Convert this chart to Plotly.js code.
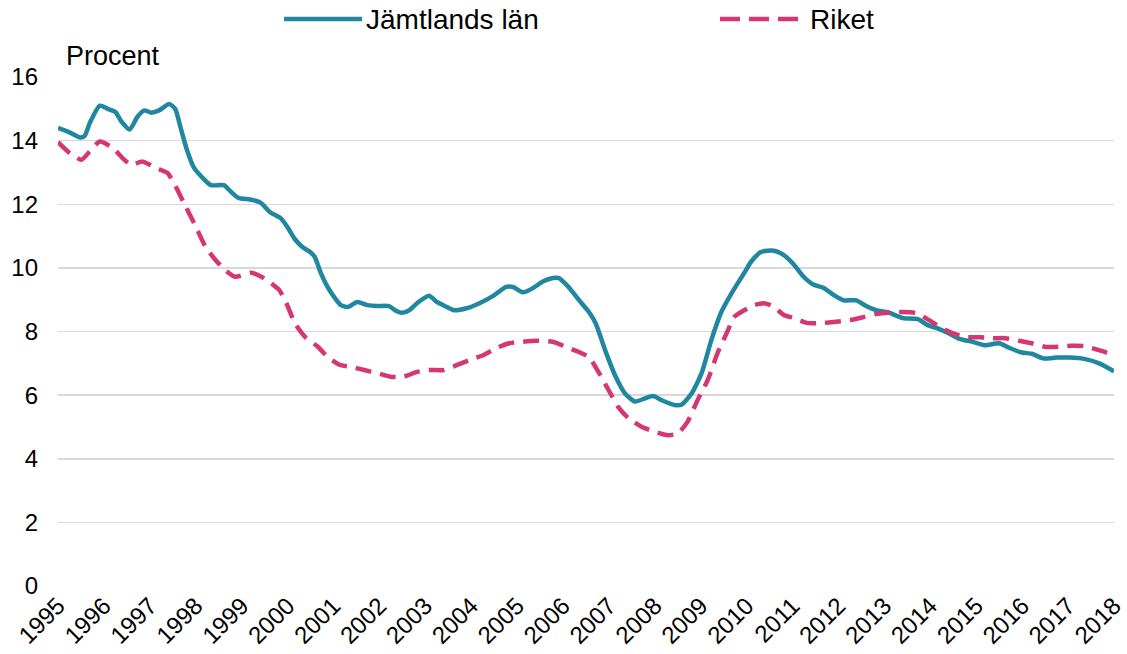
<!DOCTYPE html>
<html>
<head>
<meta charset="utf-8">
<script src="https://cdn.plot.ly/plotly-3.0.1.min.js"></script>
<style>html,body{margin:0;padding:0;background:#fff;}#chart{width:1127px;height:654px;}</style>
</head>
<body>
<div id="chart"></div>
<script>
const jamtYears = [1995.00,1995.26,1995.48,1995.58,1995.69,1995.91,1996.08,1996.25,1996.38,1996.56,1996.73,1996.88,1997.03,1997.20,1997.42,1997.55,1997.68,1997.81,1997.96,1998.17,1998.33,1998.61,1998.76,1998.93,1999.19,1999.41,1999.62,1999.86,2000.01,2000.16,2000.33,2000.49,2000.59,2000.72,2000.87,2001.03,2001.16,2001.31,2001.52,2001.74,2001.95,2002.21,2002.34,2002.49,2002.65,2002.82,2003.08,2003.25,2003.47,2003.62,2003.90,2004.18,2004.48,2004.76,2004.91,2005.13,2005.35,2005.56,2005.78,2005.91,2006.12,2006.34,2006.56,2006.71,2006.92,2007.14,2007.35,2007.57,2007.79,2007.96,2008.15,2008.43,2008.58,2008.80,2009.02,2009.23,2009.45,2009.67,2009.95,2010.10,2010.31,2010.59,2010.81,2011.03,2011.24,2011.46,2011.68,2011.89,2012.11,2012.39,2012.60,2012.82,2013.08,2013.40,2013.73,2013.94,2014.16,2014.42,2014.63,2014.91,2015.19,2015.50,2015.73,2015.99,2016.21,2016.47,2016.75,2017.03,2017.35,2017.68,2018.00];
const jamtValues = [14.40,14.25,14.10,14.15,14.55,15.10,15.00,14.90,14.60,14.35,14.75,14.95,14.88,14.95,15.15,15.00,14.35,13.70,13.15,12.80,12.60,12.60,12.40,12.20,12.15,12.05,11.75,11.55,11.25,10.90,10.65,10.50,10.35,9.85,9.40,9.05,8.83,8.77,8.93,8.83,8.80,8.80,8.67,8.59,8.67,8.89,9.12,8.93,8.77,8.67,8.73,8.89,9.12,9.40,9.40,9.23,9.37,9.57,9.68,9.68,9.40,9.00,8.62,8.26,7.40,6.60,6.05,5.80,5.90,5.97,5.84,5.69,5.70,6.05,6.70,7.73,8.62,9.20,9.85,10.20,10.50,10.54,10.40,10.10,9.72,9.47,9.37,9.15,8.98,8.98,8.80,8.67,8.60,8.42,8.39,8.20,8.10,7.93,7.77,7.68,7.57,7.63,7.48,7.34,7.30,7.15,7.18,7.18,7.14,7.00,6.75];

const riketYears = [1995.00,1995.26,1995.51,1995.69,1995.91,1996.19,1996.40,1996.59,1996.84,1997.13,1997.38,1997.56,1997.78,1998.00,1998.21,1998.43,1998.64,1998.86,1999.21,1999.43,1999.64,1999.82,1999.97,2000.16,2000.38,2000.66,2000.87,2001.16,2001.37,2001.67,2001.95,2002.24,2002.53,2002.82,2003.10,2003.40,2003.68,2003.96,2004.27,2004.55,2004.83,2005.13,2005.41,2005.78,2006.06,2006.34,2006.56,2006.77,2006.99,2007.20,2007.42,2007.72,2008.00,2008.28,2008.50,2008.71,2008.93,2009.15,2009.36,2009.58,2009.73,2009.95,2010.16,2010.38,2010.59,2010.81,2011.03,2011.31,2011.61,2011.95,2012.26,2012.54,2012.82,2013.12,2013.34,2013.68,2013.90,2014.20,2014.48,2014.76,2015.07,2015.35,2015.63,2015.93,2016.21,2016.49,2016.79,2017.07,2017.35,2017.66,2018.00];
const riketValues = [13.95,13.60,13.40,13.66,13.97,13.77,13.46,13.24,13.34,13.14,12.99,12.56,11.93,11.30,10.67,10.25,9.93,9.72,9.85,9.72,9.52,9.30,8.90,8.26,7.83,7.52,7.20,6.94,6.89,6.79,6.69,6.58,6.58,6.73,6.79,6.79,6.94,7.10,7.26,7.48,7.63,7.68,7.71,7.68,7.52,7.36,7.20,6.73,6.16,5.63,5.28,5.00,4.85,4.74,4.80,5.16,5.84,6.47,7.30,8.00,8.46,8.67,8.83,8.89,8.78,8.52,8.42,8.27,8.26,8.31,8.36,8.45,8.55,8.60,8.61,8.58,8.42,8.15,7.95,7.83,7.82,7.79,7.79,7.71,7.63,7.52,7.52,7.55,7.54,7.42,7.26];

const tickYears = [1995,1996,1997,1998,1999,2000,2001,2002,2003,2004,2005,2006,2007,2008,2009,2010,2011,2012,2013,2014,2015,2016,2017,2018];
const tickLabels = tickYears.map(String);
const yTicks = [0,2,4,6,8,10,12,14,16];

const seriesNames = ['Jämtlands län','Riket'];
const seriesColors = ['#1f87a0','#d63671'];
const unitLabel = 'Procent';

const W = 1127, H = 654;
const M = {l:58, r:13, t:77, b:68};
const pw = W - M.l - M.r, ph = H - M.t - M.b;
const px = x => (x - M.l) / pw;
const py = y => (H - M.b - y) / ph;

const FONT = 'Liberation Sans, Arial, sans-serif';

const traces = [
  {x: jamtYears, y: jamtValues, name: seriesNames[0], type: 'scatter', mode: 'lines',
   line: {color: seriesColors[0], width: 4.5, shape: 'spline', smoothing: 0.6}, showlegend: false, hoverinfo: 'x+y'},
  {x: riketYears, y: riketValues, name: seriesNames[1], type: 'scatter', mode: 'lines',
   line: {color: seriesColors[1], width: 4.5, dash: '16px,9px', shape: 'spline', smoothing: 0.6}, showlegend: false, hoverinfo: 'x+y'}
];

const legendY = py(19);
const layout = {
  width: W, height: H,
  margin: M,
  paper_bgcolor: '#fff', plot_bgcolor: '#fff',
  font: {family: FONT, size: 25, color: '#000'},
  showlegend: false,
  xaxis: {
    range: [1994.999, 2018.001], tickmode: 'array', tickvals: tickYears, ticktext: tickLabels,
    tickangle: -45, showgrid: false, zeroline: false, showline: false, ticks: '',
    ticklabeloverflow: 'allow',
    tickfont: {family: FONT, size: 24, color: '#000'}, fixedrange: true
  },
  yaxis: {
    range: [0, 16], tickmode: 'array', tickvals: yTicks, showgrid: true,
    gridcolor: '#d9d9d9', gridwidth: 1.5, zeroline: false, showline: false, ticks: '',
    ticklabelstandoff: 19,
    tickfont: {family: FONT, size: 24, color: '#000'}, fixedrange: true
  },
  shapes: [
    {type: 'line', xref: 'paper', yref: 'paper', x0: px(284), x1: px(362), y0: legendY, y1: legendY,
     line: {color: seriesColors[0], width: 4.5}},
    {type: 'line', xref: 'paper', yref: 'paper', x0: px(720), x1: px(806), y0: legendY, y1: legendY,
     line: {color: seriesColors[1], width: 4.5, dash: '20px,9px'}}
  ],
  annotations: [
    {text: seriesNames[0], xref: 'paper', yref: 'paper', x: px(364), y: legendY, xanchor: 'left', yanchor: 'middle',
     showarrow: false, font: {family: FONT, size: 28, color: '#000'}},
    {text: seriesNames[1], xref: 'paper', yref: 'paper', x: px(808), y: legendY, xanchor: 'left', yanchor: 'middle',
     showarrow: false, font: {family: FONT, size: 28, color: '#000'}},
    {text: unitLabel, xref: 'paper', yref: 'paper', x: px(64), y: py(56), xanchor: 'left', yanchor: 'middle',
     showarrow: false, font: {family: FONT, size: 27, color: '#000'}}
  ]
};

Plotly.newPlot('chart', traces, layout, {displayModeBar: false, staticPlot: true});
</script>
</body>
</html>
